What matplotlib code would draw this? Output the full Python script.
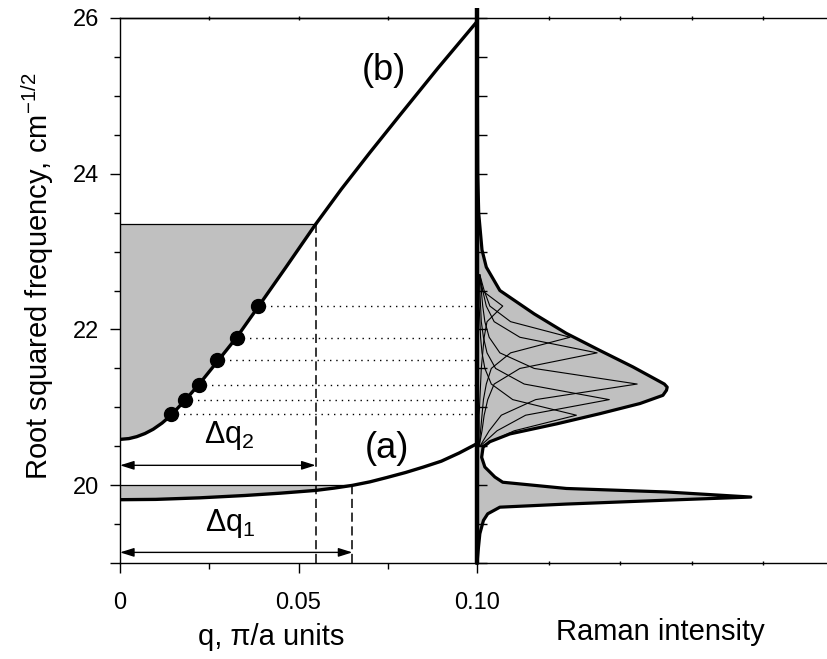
import matplotlib
matplotlib.use("Agg")
import matplotlib.pyplot as plt
import numpy as np

plt.rcParams['font.family'] = ['Liberation Sans', 'DejaVu Sans']
plt.rcParams['mathtext.fontset'] = 'custom'
plt.rcParams['mathtext.rm'] = 'Liberation Sans'
plt.rcParams['mathtext.it'] = 'Liberation Sans:italic'
plt.rcParams['mathtext.bf'] = 'Liberation Sans:bold'

# ---------------- data ----------------
# dispersion curve (b)
curve_b_q = [0.0, 0.0025, 0.0047, 0.0070, 0.0093, 0.0118, 0.0142, 0.0182, 0.0222, 0.0273, 0.0327,
             0.0387, 0.0465, 0.0548, 0.0620, 0.0700, 0.0784, 0.0890, 0.1000]
curve_b_y = [20.59, 20.60, 20.625, 20.665, 20.72, 20.80, 20.895, 21.09, 21.30, 21.59, 21.90,
             22.29, 22.80, 23.35, 23.80, 24.27, 24.75, 25.35, 25.95]
# dispersion curve (a)
curve_a_q = [0.0, 0.0100, 0.0224, 0.0350, 0.0450, 0.0548, 0.0600, 0.0651, 0.0700, 0.0747, 0.0800,
             0.0850, 0.0900, 0.0950, 0.1000]
curve_a_y = [19.816, 19.82, 19.84, 19.87, 19.90, 19.935, 19.965, 20.0, 20.045, 20.10, 20.165,
             20.235, 20.31, 20.415, 20.535]
# highlighted points on (b)
dots_q = [0.0142, 0.0182, 0.0222, 0.0273, 0.0327, 0.0387]
dots_y = [20.91, 21.09, 21.29, 21.61, 21.89, 22.30]
# widths of confinement
dq2 = 0.0548
dq2_top = 23.35
dq1 = 0.0651
dq1_top = 20.0
arrow2_y = 20.257
arrow1_y = 19.14

# Raman spectrum envelope
env_y = [19.0, 19.2, 19.38, 19.55, 19.635, 19.72, 19.76, 19.81, 19.85, 19.915, 19.96, 20.04, 20.107,
         20.235, 20.36, 20.49, 20.56, 20.66, 20.79, 20.92, 21.05, 21.155, 21.22, 21.26, 21.30, 21.52,
         21.73, 21.95, 22.2, 22.5, 22.8, 23.02, 23.49, 24.0, 26.0]
env_i = [0.0, 0.02, 0.04, 0.09, 0.15, 0.32, 1.25, 2.65, 3.83, 2.65, 1.25, 0.36, 0.25,
         0.11, 0.065, 0.085, 0.18, 0.46, 1.12, 1.72, 2.28, 2.60, 2.65, 2.66, 2.62, 2.18,
         1.72, 1.25, 0.80, 0.32, 0.13, 0.07, 0.024, 0.01, 0.0]

# component spectra
comp_y = [20.5, 20.7, 20.9, 21.1, 21.3, 21.5, 21.7, 21.9, 22.1, 22.3, 22.5, 22.7]
comp_1 = [0.05, 0.52, 1.39, 0.50, 0.20, 0.11, 0.07, 0.05, 0.04, 0.03, 0.03, 0.02]
comp_2 = [0.04, 0.28, 0.68, 1.85, 0.66, 0.26, 0.14, 0.09, 0.06, 0.05, 0.04, 0.03]
comp_3 = [0.04, 0.17, 0.34, 0.82, 2.24, 0.80, 0.32, 0.17, 0.11, 0.08, 0.06, 0.04]
comp_4 = [0.03, 0.07, 0.10, 0.15, 0.24, 0.60, 1.68, 0.60, 0.24, 0.13, 0.08, 0.04]
comp_5 = [0.03, 0.05, 0.07, 0.09, 0.13, 0.20, 0.47, 1.30, 0.47, 0.18, 0.10, 0.04]
comp_6 = [0.02, 0.03, 0.03, 0.04, 0.05, 0.06, 0.08, 0.10, 0.14, 0.36, 0.07, 0.03]

x_ticks = [0, 0.05, 0.10]
x_ticklabels = ['0', '0.05', '0.10']
y_ticks = [19, 20, 22, 24, 26]
y_ticklabels = ['', '20', '22', '24', '26']

GRAY = '#c0c0c0'

# ---------------- figure ----------------
fig = plt.figure(figsize=(8.27, 6.59), dpi=100)
ax1 = fig.add_axes([120/827, 95.7/659, 357/827, 545.6/659])
ax2 = fig.add_axes([477/827, 95.7/659, 350/827, 545.6/659])

for ax in (ax1, ax2):
    ax.set_ylim(19, 26)
ax1.set_xlim(0, 0.10)
ax2.set_xlim(0, 350/71.5)

# fills
bq = np.array(curve_b_q); by = np.array(curve_b_y)
mb = bq <= dq2 + 1e-9
ax1.fill(np.r_[bq[mb], 0.0], np.r_[by[mb], dq2_top], color=GRAY, lw=0, zorder=1)
aq = np.array(curve_a_q); ay = np.array(curve_a_y)
ma = aq <= dq1 + 1e-9
ax1.fill(np.r_[aq[ma], 0.0], np.r_[ay[ma], dq1_top], color=GRAY, lw=0, zorder=1)
ax1.plot([0, dq2], [dq2_top, dq2_top], color='k', lw=0.9, zorder=2)
ax1.plot([0, dq1], [dq1_top, dq1_top], color='k', lw=0.9, zorder=2)

# dashed verticals
ax1.plot([dq2, dq2], [19, dq2_top], color='k', lw=1.1, ls=(0, (6, 3)), zorder=2)
ax1.plot([dq1, dq1], [19, dq1_top], color='k', lw=1.1, ls=(0, (6, 3)), zorder=2)

# dotted horizontals
for q, y in zip(dots_q, dots_y):
    ax1.plot([q, 0.10], [y, y], color='k', lw=1.0, ls=(0, (1, 3.5)), zorder=2)

# curves
ax1.plot(curve_b_q, curve_b_y, color='k', lw=2.4, zorder=3, solid_joinstyle='round')
ax1.plot(curve_a_q, curve_a_y, color='k', lw=2.4, zorder=3, solid_joinstyle='round')
ax1.plot(dots_q, dots_y, 'o', color='k', ms=10, zorder=4)

# arrows
for xe, ya in ((dq2, arrow2_y), (dq1, arrow1_y)):
    ax1.annotate('', xy=(xe, ya), xytext=(0, ya),
                 arrowprops=dict(arrowstyle='<|-|>,head_length=0.7,head_width=0.22',
                                 color='k', lw=1.0, mutation_scale=12,
                                 shrinkA=0, shrinkB=0))

# texts
ax1.text(0.0305, 20.548, r'Δq$_2$', fontsize=22, ha='center', va='baseline')
ax1.text(0.0308, 19.42, r'Δq$_1$', fontsize=22, ha='center', va='baseline')
ax1.text(0.0747, 20.35, '(a)', fontsize=26, ha='center', va='baseline')
ax1.text(0.0738, 25.2, '(b)', fontsize=26, ha='center', va='baseline')

# left axes ticks
ax1.set_xticks(x_ticks)
ax1.set_xticklabels(x_ticklabels)
ax1.set_xticks([0.025, 0.075], minor=True)
ax1.set_yticks(y_ticks)
ax1.set_yticklabels(y_ticklabels)
ax1.set_yticks([19.5, 20.5, 21, 21.5, 22.5, 23, 23.5, 24.5, 25, 25.5], minor=True)
ax1.tick_params(axis='x', which='major', direction='out', length=7, width=1, pad=14, labelsize=17)
ax1.tick_params(axis='x', which='minor', direction='out', length=4.5, width=1)
ax1.tick_params(axis='y', which='major', direction='out', length=7, width=1, pad=8, labelsize=17)
ax1.tick_params(axis='y', which='minor', direction='out', length=4.3, width=1)
ax1.spines['right'].set_visible(False)
sec = ax1.secondary_xaxis('top')
sec.set_xticks([0.025, 0.05, 0.075])
sec.set_xticklabels([])
sec.tick_params(direction='inout', length=3, width=1)
sec.spines['top'].set_linewidth(1)
for s in ax1.spines.values():
    s.set_linewidth(1)

# right panel: Raman spectrum
ax2.fill_betweenx(env_y, 0, env_i, color=GRAY, lw=0, zorder=1)
for comp in (comp_1, comp_2, comp_3, comp_4, comp_5, comp_6):
    ax2.plot(comp, comp_y, color='k', lw=0.8, zorder=2)
ax2.plot(env_i, env_y, color='k', lw=2.3, zorder=3, clip_on=False, solid_joinstyle='round')
ax2.plot([0, 0], [19, 26.12], color='k', lw=3.2, zorder=4, clip_on=False, solid_capstyle='butt')
ax2.set_yticks(np.arange(19, 26.01, 0.5))
ax2.set_yticklabels([])
ax2.tick_params(axis='y', direction='in', length=7, width=1)
ax2.set_xticks([1, 2, 3, 4])
ax2.set_xticklabels([])
ax2.tick_params(axis='x', direction='inout', length=3, width=1, top=True)
ax2.spines['right'].set_visible(False)
for s in ax2.spines.values():
    s.set_linewidth(1)

# axis labels
fig.text(271/827, 1 - 645/659, 'q, π/a units', fontsize=21, ha='center', va='baseline')
fig.text(660/827, 1 - 640/659, 'Raman intensity', fontsize=21, ha='center', va='baseline')
fig.text(38/827, 1 - 276/659, r'Root squared frequency, cm$^{-1/2}$', fontsize=21,
         rotation=90, ha='center', va='center')

fig.savefig('out.png', dpi=100)
